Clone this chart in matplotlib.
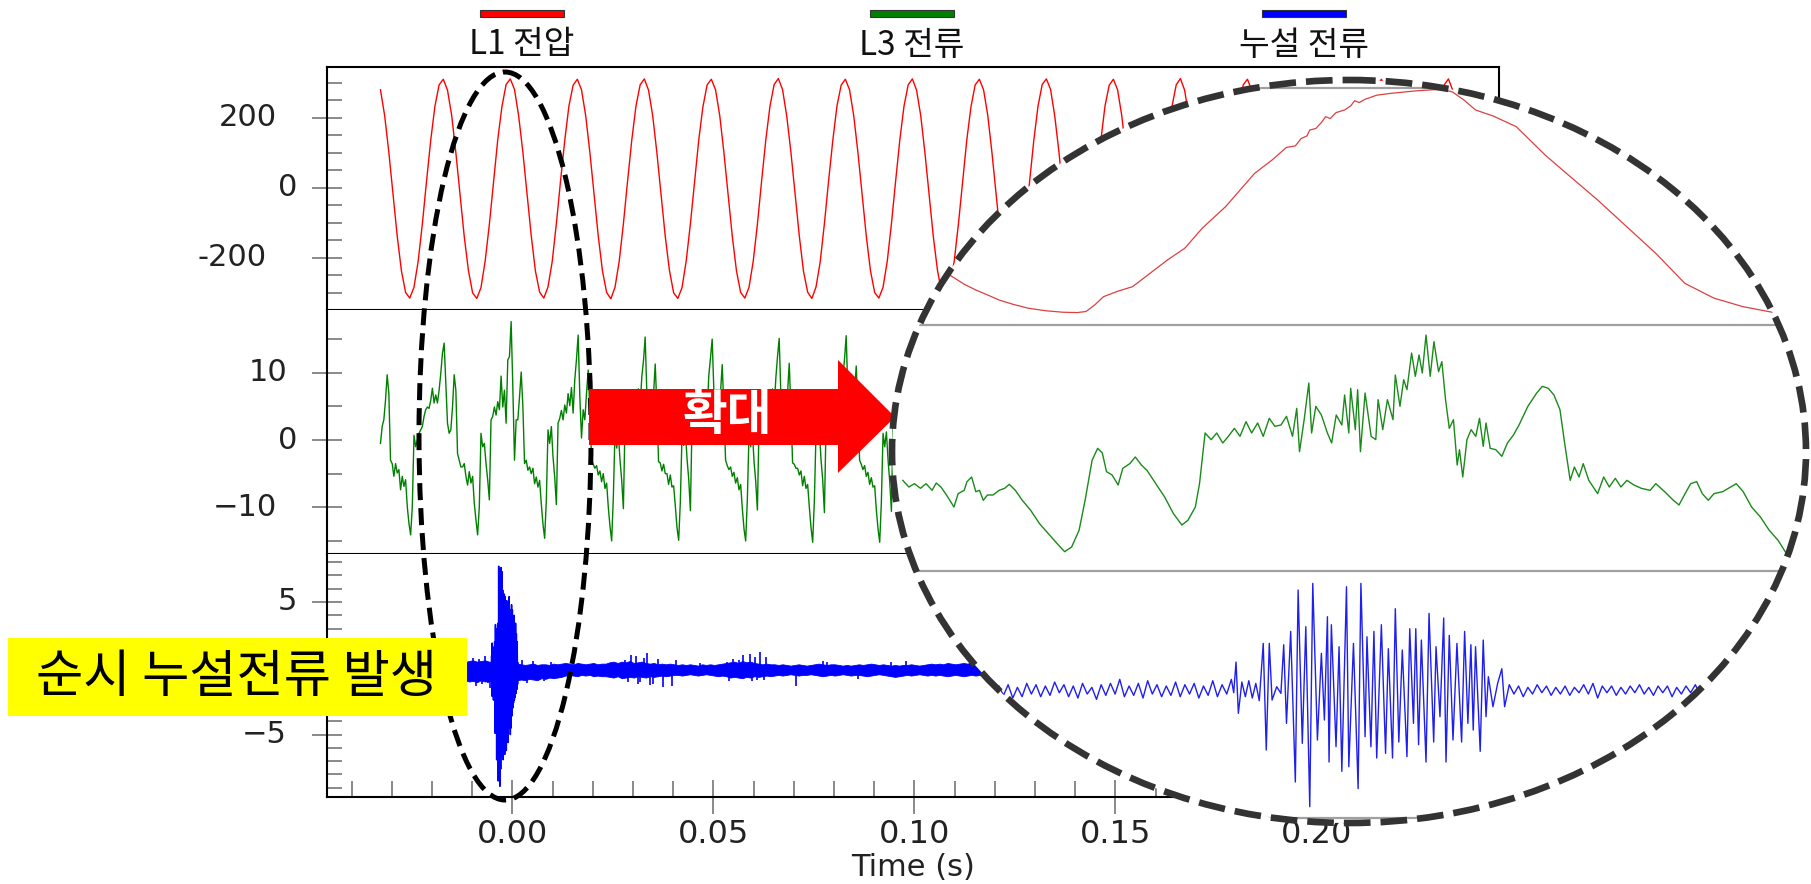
import numpy as np
import matplotlib
matplotlib.use('Agg')
import matplotlib.pyplot as plt
from matplotlib.patches import Ellipse, Polygon, Rectangle
from matplotlib.ticker import MultipleLocator

plt.rcParams['font.family'] = ['DejaVu Sans', 'Noto Sans CJK KR']
KR = ['Noto Sans CJK KR', 'DejaVu Sans']

# ---------------- recorded traces (time in s) ----------------
t_start = -0.0328
red_rate = 960        # samples per second kept for L1 voltage
green_rate = 2400     # samples per second kept for L3 current

# L1 voltage, one row per 60 Hz cycle (V)
red_rows = [
    [280, 206, 101, -19, -138, -237, -299, -315, -284, -210, -103, 19, 136, 233, 294, 310],
    [279, 207, 100, -20, -139, -236, -300, -316, -285, -209, -104, 18, 137, 232, 295, 311],
    [281, 205, 102, -18, -137, -238, -298, -315, -283, -211, -102, 20, 135, 234, 293, 310],
    [280, 206, 101, -19, -138, -237, -299, -317, -284, -210, -103, 19, 136, 233, 294, 311],
    [279, 206, 100, -20, -139, -236, -300, -316, -285, -209, -103, 18, 137, 232, 294, 310],
    [280, 207, 101, -19, -138, -237, -299, -315, -284, -210, -104, 19, 136, 233, 295, 312],
    [281, 205, 102, -18, -137, -238, -298, -316, -283, -211, -102, 20, 135, 234, 293, 310],
    [280, 206, 101, -19, -138, -237, -299, -315, -284, -210, -103, 19, 136, 233, 294, 311],
    [279, 206, 100, -20, -139, -236, -300, -317, -285, -209, -103, 18, 137, 232, 294, 310],
    [280, 207, 101, -19, -138, -237, -299, -316, -284, -210, -104, 19, 136, 233, 295, 311],
    [281, 205, 102, -18, -137, -238, -298, -315, -283, -211, -102, 20, 135, 234, 293, 310],
    [280, 206, 101, -19, -138, -237, -299, -316, -284, -210, -103, 19, 136, 233, 294, 312],
    [279, 206, 100, -20, -139, -236, -300, -315, -285, -209, -103, 18, 137, 232, 294, 310],
    [280, 207, 101, -19, -138, -237, -299, -317, -284, -210, -104, 19, 136, 233, 295, 311],
    [281, 205, 102, -18, -137, -238, -298, -316, -283, -211, -102, 20, 135, 234, 293, 310],
    [280, 206, 101, -19, -138, -237, -299, -315, -284, -210, -103, 19, 136, 233, 294, 311],
    [279, 206, 100, -20, -139, -236, -300, -316, -285, -209, -103],
]

# L3 current (A): lead-in, then one list per cycle starting at the negative spike
green_lead = [-0.5, 2.0, 3.0, 5.9, 9.7, 6.9, -3.0, -3.5, -5.4, -3.5, -4.9, -4.4, -7.4, -5.4, -6.9, -5.9, -9.9, -12.4]
green_c1 = [-14.1, -9.9, 0.7, -1.0, 0.0, 1.0, 1.5, 2.0, 3.5, 4.5, 4.9, 4.7, 5.9, 7.7, 5.5, 6.7, 5.5, 7.4, 9.9, 12.9,
            14.4, 8.4, 2.5, 1.0, 1.5, 4.9, 9.7, 7.4, -2.0, -3.0, -4.0, -4.0, -3.5, -5.4, -6.7, -4.7, -6.4, -5.4, -9.4, -11.9]
green_c2 = [-14.1, -9.9, 1.0, -1.0, -0.5, -3.5, -5.9, -8.9, 3.0, 3.5, 4.9, 3.7, 5.7, 4.5, 9.5, 4.9, 7.4, 2.5, 11.9, 12.4,
            17.6, 7.9, -3.0, 3.0, 3.0, 6.4, 10.1, 5.0, -3.5, -3.0, -4.5, -4.0, -5.0, -4.2, -6.5, -5.5, -7.0, -6.0, -9.5, -12.5]
green_c3 = [-14.6, -9.0, 1.5, -0.5, 2.0, -2.5, -5.5, -9.6, 2.5, 3.2, 4.4, 3.0, 5.2, 4.0, 6.9, 5.1, 7.8, 4.0, 9.0, 12.0,
            15.6, 6.5, 0.3, 4.5, 3.0, 7.0, 10.4, 4.2, -2.8, -3.6, -4.2, -3.8, -5.2, -4.6, -6.2, -5.0, -7.2, -6.4, -10.0, -12.8]
green_c4 = [-15.0, -8.5, 1.2, -1.2, 1.0, -3.0, -6.0, -10.2, 2.8, 3.6, 4.0, 3.4, 5.0, 4.6, 7.2, 4.8, 7.6, 5.0, 9.4, 11.8,
            15.3, 7.0, 1.0, 3.8, 3.4, 6.8, 11.3, 5.0, -3.2, -3.4, -4.6, -3.6, -5.0, -5.0, -6.6, -5.2, -7.0, -6.8, -9.8, -13.0]
green_c5 = [-14.9, -9.2, 0.8, -0.8, 1.5, -2.8, -5.8, -10.5, 3.0, 3.0, 4.6, 3.6, 5.4, 4.2, 7.0, 5.4, 7.2, 4.4, 9.6, 12.2,
            15.0, 7.4, 0.6, 4.0, 3.2, 7.2, 11.2, 4.6, -3.0, -3.8, -4.4, -4.0, -5.4, -4.8, -6.4, -5.6, -7.4, -6.6, -10.2, -13.2]
green_c6 = [-15.0, -8.8, 1.0, -1.0, 1.2, -3.2, -6.2, -10.4, 2.6, 3.4, 4.2, 3.2, 5.6, 4.4, 6.8, 5.0, 7.6, 4.6, 9.2, 12.4,
            15.1, 6.8, 0.8, 4.2, 3.6, 7.0, 11.4, 4.8, -3.4, -3.6, -4.2, -4.2, -5.2, -4.6, -6.8, -5.4, -7.2, -6.6, -10.0, -13.0]
green_c7 = [-15.2, -9.0, 1.2, -0.6, 1.4, -3.0, -6.0, -10.8, 2.8, 3.2, 4.4, 3.4, 5.2, 4.6, 7.4, 5.2, 7.4, 4.2, 9.4, 12.0,
            15.5, 7.2, 0.4, 4.0, 3.4, 7.2, 11.0, 4.4, -3.0, -3.6, -4.4, -3.8, -5.4, -4.8, -6.6, -5.6, -7.0, -6.8, -10.4, -13.2]
green_c8 = [-15.2, -9.2, 1.0, -1.0, 1.2, -3.0, -6.2, -10.6, 2.6, 3.4, 4.2, 3.4, 5.4, 4.4, 7.0, 5.0, 7.6, 4.4, 9.4, 12.2,
            15.2, 7.0, 0.6, 4.0, 3.4, 7.0, 11.0, 4.6, -3.2, -3.6, -4.4, -4.0, -5.2, -4.8, -6.6, -5.4, -7.2, -6.6, -10.0, -13.0]

# leakage current (A): noise band sampled every 1 ms (upper / lower edge)
blue_step = 0.001
blue_hi = [0.45, 0.50, 0.40, 0.55, 0.50, 0.45, 0.50, 0.60, 0.45, 0.50,
           0.40, 0.50, 0.55, 0.45, 0.50, 0.50, 0.45, 0.55, 0.50, 0.40,
           0.50, 0.45, 0.55, 0.60, 0.50, 0.55, 0.60, 0.50, 0.50, 0.50,
           0.50, 0.50, 0.45, 0.40, 0.35, 0.30, 0.25, 0.30, 0.35, 0.25,
           0.30, 0.30, 0.25, 0.35, 0.30, 0.35, 0.40, 0.35, 0.30, 0.40,
           0.35, 0.30, 0.35, 0.40, 0.30, 0.35, 0.35, 0.45, 0.50, 0.40,
           0.50, 0.45, 0.55, 0.40, 0.45, 0.50, 0.40, 0.35, 0.40, 0.30,
           0.35, 0.30, 0.35, 0.30, 0.25, 0.30, 0.25, 0.30, 0.25, 0.20,
           0.30, 0.25, 0.30, 0.25, 0.30, 0.35, 0.40, 0.45, 0.50, 0.40,
           0.55, 0.45, 0.50, 0.40, 0.35, 0.30, 0.35, 0.30, 0.30, 0.25,
           0.30, 0.25, 0.20, 0.25, 0.30, 0.25, 0.20, 0.25, 0.30, 0.35,
           0.30, 0.25, 0.30, 0.30, 0.25, 0.20, 0.25, 0.20, 0.25, 0.30,
           0.25, 0.30, 0.35, 0.30, 0.25, 0.30, 0.25, 0.20, 0.25, 0.20,
           0.25, 0.25, 0.30, 0.25, 0.20, 0.25, 0.30, 0.35, 0.30, 0.35,
           0.30, 0.40, 0.35, 0.30, 0.35, 0.40, 0.35, 0.45, 0.40, 0.35,
           0.40, 0.45, 0.40, 0.35, 0.40]
blue_lo = [-0.85, -0.90, -1.00, -0.85, -0.95, -0.90, -0.80, -0.95, -0.90, -1.00,
           -0.85, -0.90, -0.95, -0.90, -0.85, -1.00, -0.90, -0.95, -0.85, -0.90,
           -1.00, -0.90, -1.00, -0.95, -1.05, -0.90, -1.00, -0.95, -1.00, -1.00,
           -0.95, -0.90, -0.90, -0.85, -0.90, -0.85, -0.90, -0.80, -0.85, -0.90,
           -0.75, -0.80, -0.70, -0.75, -0.70, -0.65, -0.55, -0.50, -0.55, -0.60,
           -0.50, -0.55, -0.50, -0.60, -0.55, -0.60, -0.60, -0.65, -0.70, -0.60,
           -0.75, -0.70, -0.65, -0.70, -0.60, -0.65, -0.70, -0.60, -0.65, -0.60,
           -0.55, -0.60, -0.55, -0.50, -0.50, -0.55, -0.50, -0.45, -0.50, -0.55,
           -0.50, -0.45, -0.50, -0.55, -0.60, -0.55, -0.60, -0.70, -0.65, -0.70,
           -0.75, -0.65, -0.70, -0.60, -0.65, -0.60, -0.55, -0.60, -0.55, -0.50,
           -0.55, -0.50, -0.45, -0.50, -0.55, -0.50, -0.50, -0.45, -0.50, -0.55,
           -0.60, -0.55, -0.50, -0.55, -0.50, -0.45, -0.50, -0.55, -0.50, -0.50,
           -0.55, -0.60, -0.55, -0.50, -0.45, -0.50, -0.55, -0.60, -0.65, -0.60,
           -0.55, -0.50, -0.55, -0.50, -0.45, -0.50, -0.55, -0.50, -0.55, -0.50,
           -0.55, -0.60, -0.55, -0.50, -0.55, -0.60, -0.55, -0.50, -0.55, -0.50,
           -0.55, -0.60, -0.55, -0.50, -0.55]
blue_mid = -0.15
spike_t = [-0.0098, -0.0091, -0.0083, -0.0076, -0.0069, -0.0061, -0.0056, 0.0024, 0.0036, 0.0052, 0.0078, 0.0095,
           0.0280, 0.0288, 0.0296, 0.0307, 0.0312, 0.0317, 0.0328, 0.0336, 0.0342, 0.0350, 0.0362, 0.0375, 0.0396,
           0.0407, 0.0466, 0.0533, 0.0538, 0.0550, 0.0564, 0.0573, 0.0591, 0.0596, 0.0603, 0.0608, 0.0616, 0.0626,
           0.0632, 0.0705, 0.0772, 0.0782, 0.0860, 0.0943, 0.0978]
spike_v = [0.8, -1.3, 0.7, -1.2, 0.9, -1.1, -1.5, 0.6, -1.1, 0.55, -0.95, 0.5,
           0.65, -1.0, 1.0, 0.95, -1.15, -1.0, 0.8, 1.18, -1.26, -1.2, 0.7, -1.43, -1.33,
           0.6, 0.42, 0.5, -0.96, 0.7, 0.62, 1.0, 1.07, -0.95, 0.83, -0.9, 1.25, -0.88,
           0.85, -1.33, 0.55, 0.45, -0.83, 0.5, 0.55]
burst_start, burst_step = -0.0052, 0.0001
burst_v = [0.9, -2.1, 1.9, -1.6, 1.2, -2.4, 1.6, -1.8, 2.0, -4.9,
           3.3, -3.8, 2.8, -6.9, 3.0, -5.2, 3.4, -8.5, 7.7, -6.0,
           7.5, -8.9, 6.8, -7.6, 7.6, -6.7, 7.3, -6.2, 5.9, -6.9,
           5.0, -5.9, 5.6, -6.5, 5.4, -5.6, 4.6, -6.2, 5.1, -5.0,
           4.4, -5.6, 4.8, -4.5, 5.4, -4.4, 4.2, -5.0, 4.4, -4.5,
           4.8, -3.6, 4.4, -3.0, 3.6, -2.6, 4.0, -2.4, 3.1, -2.2,
           3.4, -1.9, 2.6, -1.6, 2.0, -1.2, 0.4]

# ---------------- zoomed cycle shown in the circle (time in ms) ----------------
zoom_red = [(1.0, -196), (1.1, -205), (1.375, -227), (1.63, -243), (1.875, -256), (2.13, -270), (2.44, -282),
            (2.75, -292), (3.13, -299), (3.5, -303), (3.81, -304), (4.0, -301), (4.19, -283), (4.375, -261),
            (4.69, -246), (5.0, -234), (5.375, -198), (5.75, -162), (6.125, -130), (6.5, -76), (7.0, -18),
            (7.375, 36), (7.625, 72), (8.0, 108), (8.31, 142), (8.5, 146), (8.625, 166), (8.75, 173), (8.81, 189),
            (8.94, 193), (9.06, 209), (9.15, 225), (9.25, 220), (9.375, 236), (9.56, 243), (9.69, 254),
            (9.775, 268), (9.875, 263), (10.0, 272), (10.25, 283), (10.56, 288), (10.875, 292), (11.125, 295),
            (11.375, 297), (11.625, 299), (11.875, 292), (12.125, 270), (12.375, 243), (12.75, 227), (13.25, 198),
            (13.875, 121), (14.375, 67), (15.0, 0), (15.625, -72), (16.25, -144), (16.875, -225), (17.5, -265),
            (18.125, -288), (18.75, -303)]
zoom_green = [(0.06, -3.6), (0.19, -4.6), (0.31, -4.1), (0.44, -4.8), (0.56, -4.1), (0.69, -5.1), (0.78, -4.0),
              (0.88, -4.6), (1.0, -5.8), (1.16, -7.6), (1.25, -5.6), (1.38, -5.1), (1.44, -3.8), (1.54, -3.1),
              (1.63, -5.3), (1.71, -5.1), (1.79, -6.6), (1.88, -5.8), (2.0, -5.8), (2.13, -5.1), (2.25, -4.8),
              (2.35, -4.2), (2.48, -5.1), (2.63, -6.6), (2.81, -8.1), (3.0, -10.1), (3.19, -11.6), (3.38, -13.1),
              (3.54, -14.3), (3.69, -13.6), (3.85, -11.1), (3.98, -6.6), (4.13, -0.6), (4.25, 1.2), (4.35, 0.5),
              (4.44, -2.3), (4.56, -2.8), (4.69, -4.3), (4.79, -1.8), (4.94, -1.1), (5.06, -0.1), (5.19, -1.3),
              (5.31, -2.1), (5.5, -4.1), (5.69, -6.1), (5.88, -8.6), (6.06, -10.3), (6.19, -9.6), (6.35, -7.6),
              (6.44, -4.1), (6.56, 3.5), (6.69, 2.5), (6.81, 3.5), (6.94, 2.0), (7.06, 3.0), (7.19, 4.2),
              (7.31, 3.0), (7.44, 5.2), (7.56, 3.5), (7.69, 5.0), (7.81, 3.0), (7.94, 5.7), (8.06, 4.5),
              (8.19, 4.7), (8.31, 6.0), (8.44, 3.0), (8.53, 7.2), (8.59, 0.7), (8.69, 5.5), (8.79, 11.0),
              (8.85, 3.5), (8.94, 7.5), (9.06, 6.2), (9.19, 3.5), (9.28, 2.0), (9.38, 6.2), (9.5, 4.7), (9.56, 9.2),
              (9.65, 3.5), (9.69, 10.2), (9.79, 4.0), (9.84, 10.0), (9.9, 0.7), (10.0, 9.5), (10.13, 3.0),
              (10.23, 2.5), (10.28, 8.5), (10.38, 4.0), (10.48, 8.5), (10.6, 5.5), (10.65, 12.2), (10.75, 7.5),
              (10.83, 11.5), (10.9, 10.0), (11.0, 15.5), (11.08, 12.0), (11.16, 15.2), (11.23, 12.5), (11.31, 18.2),
              (11.4, 12.0), (11.48, 17.2), (11.58, 12.7), (11.65, 14.2), (11.73, 8.5), (11.81, 4.2), (11.9, 5.5),
              (11.98, -1.3), (12.03, 1.0), (12.1, -3.1), (12.19, 2.5), (12.28, 4.0), (12.38, 3.0), (12.46, 5.7),
              (12.54, 1.5), (12.6, 5.0), (12.69, 1.2), (12.81, 1.0), (12.94, 0.0), (13.06, 2.0), (13.19, 3.2),
              (13.31, 4.7), (13.5, 7.5), (13.69, 9.5), (13.81, 10.5), (13.94, 10.2), (14.06, 9.2), (14.19, 7.0),
              (14.29, 2.0), (14.41, -3.6), (14.5, -1.6), (14.6, -3.1), (14.69, -1.1), (14.81, -3.6), (15.0, -5.6),
              (15.13, -3.1), (15.25, -4.6), (15.38, -3.3), (15.5, -4.6), (15.63, -3.6), (15.78, -4.3), (15.94, -4.8),
              (16.13, -5.1), (16.25, -4.1), (16.44, -5.3), (16.63, -6.6), (16.75, -7.3), (16.88, -5.6), (17.0, -4.1),
              (17.13, -3.8), (17.25, -5.6), (17.38, -6.6), (17.5, -5.6), (17.69, -5.3), (17.81, -4.8), (17.98, -4.1),
              (18.13, -5.3), (18.31, -7.6), (18.5, -9.1), (18.69, -11.1), (18.88, -12.6), (19.06, -14.6)]
zoom_blue_pre = [0.3, -0.4, 0.4, -0.6, 0.2, -0.5, 0.5, -0.3, 0.4, -0.5,
                 0.3, -0.4, 0.6, -0.2, 0.4, -0.5, 0.3, -0.6, 0.5, -0.3,
                 0.2, -0.7, 0.4, -0.4, 0.5, -0.3, 0.8, -0.5, 0.3, -0.4,
                 0.5, -0.6, 0.7, -0.3, 0.4, -0.5, 0.3, -0.4, 0.6, -0.5,
                 0.4, -0.3, 0.5, -0.6, 0.3, -0.4, 0.7, -0.5, 0.4, -0.3, 0.8]
zoom_blue_burst = [(7.175, -0.2), (7.225, 2.1), (7.275, -1.75), (7.35, 0.6), (7.425, -0.5), (7.5, 0.7),
                   (7.575, -0.6), (7.65, 0.5), (7.725, -0.8), (7.81, 3.5), (7.875, -4.5), (7.94, 3.5), (8.0, -0.75),
                   (8.1, 0.25), (8.19, -0.25), (8.25, 3.4), (8.31, -2.5), (8.4, 4.4), (8.5, -6.9), (8.56, 7.5),
                   (8.65, -4.0), (8.725, 4.75), (8.81, -8.75), (8.875, 8.0), (8.975, -3.75), (9.06, 2.75),
                   (9.125, -2.25), (9.19, 5.5), (9.225, -5.4), (9.275, 4.9), (9.375, -4.25), (9.44, 3.25),
                   (9.5, -6.1), (9.6, 7.75), (9.65, -5.75), (9.75, 3.5), (9.85, -7.4), (9.91, 8.0), (10.0, -3.5),
                   (10.04, 4.0), (10.125, -4.25), (10.19, 4.4), (10.25, -5.1), (10.35, 4.9), (10.44, -4.75),
                   (10.5, 3.1), (10.59, -5.1), (10.65, 6.1), (10.725, -3.9), (10.8, 3.0), (10.9, -5.0), (10.96, 4.6),
                   (11.04, -2.5), (11.09, 4.6), (11.15, -4.1), (11.21, 3.75), (11.31, -5.4), (11.375, 5.75),
                   (11.475, -3.9), (11.525, 3.25), (11.61, -2.0), (11.69, 5.4), (11.74, -5.4), (11.81, 4.1),
                   (11.89, -3.75), (11.975, 3.5), (12.075, -3.9), (12.14, 4.4), (12.21, -2.5), (12.275, 3.4),
                   (12.325, -3.0), (12.375, 3.25), (12.475, -4.6), (12.54, 3.75), (12.6, -2.0), (12.65, 1.0),
                   (12.75, -1.25), (12.85, 0.5), (12.94, 1.6), (13.0, -1.25)]
zoom_blue_post = [0.4, -0.3, 0.3, -0.5, 0.2, -0.3, 0.4, -0.2, 0.3, -0.4,
                  0.2, -0.3, 0.3, -0.4, 0.2, -0.2, 0.4, -0.3, 0.5, -0.6,
                  0.3, -0.2, 0.3, -0.4, 0.2, -0.3, 0.3, -0.2, 0.4, -0.3,
                  0.2, -0.4, 0.3, -0.2, 0.3, -0.5, 0.2, -0.3, 0.3, -0.2,
                  0.4, -0.3, 0.2]

# ---------------- labels ----------------
series_names = ['L1 전압', 'L3 전류', '누설 전류']
series_colors = ['#ff0000', '#008000', '#0000ff']
top_ticks, top_labels = [200, 0, -200], ['200', '0', '-200']
mid_ticks, mid_labels = [10, 0, -10], ['10', '0', '\u221210']
# the "0" of the leakage panel sits under the yellow note, so it is not written
bot_ticks, bot_labels = [5, 0, -5], ['5', '', '\u22125']
time_ticks = [0.0, 0.05, 0.10, 0.15, 0.20]
time_labels = ['0.00', '0.05', '0.10', '0.15', '0.20']

# ---------------- build arrays ----------------
red_v = np.concatenate([np.array(r, float) for r in red_rows])
red_t = t_start + np.arange(len(red_v)) / red_rate
green_v = np.concatenate([green_lead, green_c1, green_c2, green_c3, green_c4,
                          green_c5, green_c6, green_c7, green_c8])
green_t = t_start + np.arange(len(green_v)) / green_rate
blue_t = t_start + np.arange(len(blue_hi)) * blue_step
burst_t = burst_start + np.arange(len(burst_v)) * burst_step
zr = np.array(zoom_red)
zg = np.array(zoom_green)
zb_mid = np.array(zoom_blue_burst)
zb_t = np.concatenate([np.linspace(2.125, 7.125, len(zoom_blue_pre)), zb_mid[:, 0],
                       np.linspace(13.1, 17.3, len(zoom_blue_post))])
zb_v = np.concatenate([zoom_blue_pre, zb_mid[:, 1], zoom_blue_post])

# ---------------- figure ----------------
W, H = 1811, 884
fig = plt.figure(figsize=(W / 100, H / 100), dpi=100)


def px_axes(x0, y0, x1, y1, **kw):
    return fig.add_axes([x0 / W, 1 - y1 / H, (x1 - x0) / W, (y1 - y0) / H], **kw)


GREY = '#808080'


def setup(ax, ylim, major, labels, minor):
    ax.set_xlim(-0.0461, 0.2454)
    ax.set_ylim(*ylim)
    ax.set_yticks(major)
    ax.yaxis.set_minor_locator(MultipleLocator(minor))
    ax.tick_params(axis='y', which='major', direction='inout', length=21, width=1.3,
                   color=GREY, labelleft=False)
    ax.tick_params(axis='y', which='minor', direction='in', length=10.5, width=1.3, color=GREY)
    ax.tick_params(axis='x', which='both', bottom=False, labelbottom=False)
    for s in ax.spines.values():
        s.set_linewidth(1.5)
    for v, s in zip(major, labels):
        if not s:
            continue
        xr = (307 - 10 * len(s) - 327) / 1172
        ax.text(xr, v, s, transform=ax.get_yaxis_transform(), ha='right', va='center',
                fontsize=22, color='#222222')


ax1 = px_axes(327, 67, 1499, 310)
ax2 = px_axes(327, 310, 1499, 554)
ax3 = px_axes(327, 554, 1499, 797)
setup(ax1, (-349, 345), top_ticks, top_labels, 50)
setup(ax2, (-16.94, 19.32), mid_ticks, mid_labels, 5)
setup(ax3, (-9.71, 8.62), bot_ticks, bot_labels, 1)
for a in (ax2, ax3):
    a.spines['top'].set_visible(False)
    a.spines['right'].set_visible(False)

ax1.plot(red_t, red_v, color=series_colors[0], lw=1.0)
ax2.plot(green_t, green_v, color=series_colors[1], lw=1.0)
ax3.fill_between(blue_t, blue_lo, blue_hi, color=series_colors[2], lw=0.6)
ax3.vlines(spike_t, blue_mid, spike_v, color=series_colors[2], lw=1.2)
ax3.plot(burst_t, burst_v, color=series_colors[2], lw=1.1)

ax3.set_xticks(time_ticks, time_labels)
ax3.xaxis.set_minor_locator(MultipleLocator(0.01))
ax3.tick_params(axis='x', which='major', bottom=True, labelbottom=True, direction='inout',
                length=25, width=1.3, color=GREY, labelsize=23, pad=3.5, labelcolor='#222222')
ax3.tick_params(axis='x', which='minor', bottom=True, direction='in', length=11.5, width=1.3, color=GREY)
ax3.set_xlabel('Time (s)', fontsize=22, labelpad=2, color='#222222')

# ---------------- overlay in pixel coordinates ----------------
ov = fig.add_axes([0, 0, 1, 1], label='overlay')
ov.set_xlim(0, W)
ov.set_ylim(H, 0)
ov.axis('off')
ov.set_zorder(5)

for name, col, cx in zip(series_names, series_colors, [522, 912, 1304]):
    ov.add_patch(Rectangle((cx - 42, 10), 84, 7, fc=col, ec='#333333', lw=0.8))
    ov.text(cx, 45, name, ha='center', va='center', fontsize=24, family=KR, color='#111111')

ov.add_patch(Ellipse((505, 436), 172, 728, fill=False, ec='black', lw=3.6,
                     ls=(0, (3.4, 1.6)), zorder=2))
ov.add_patch(Rectangle((8, 638), 459, 78, fc='#ffff00', ec='none', zorder=3))
ov.text(236, 677, '순시 누설전류 발생', ha='center', va='center', fontsize=37,
        family=KR, color='black', zorder=4)

ov.add_patch(Polygon([(589, 389), (838, 389), (838, 360), (895, 417), (838, 473),
                      (838, 445), (589, 445)], closed=True, fc='#ff0000', ec='none', zorder=3))
ov.text(727, 415, '확대', ha='center', va='center', fontsize=35, fontweight='bold',
        family=KR, color='white', zorder=4)

zoom_bg = Ellipse((1349, 451.5), 914, 743, fc='white', ec='none', zorder=5)
ov.add_patch(zoom_bg)
seps = ov.hlines([88, 325, 571, 818], 880, 1820, colors='#a0a0a0', lw=1.6, zorder=6)
seps.set_clip_path(zoom_bg)


def inset(y0, y1, ylim):
    a = px_axes(892, y0, 1806, y1)
    a.set_xlim(-0.172, 19.48)
    a.set_ylim(*ylim)
    a.axis('off')
    a.set_zorder(6)
    return a


iz1 = inset(88, 325, (-337.5, 302.4))
iz2 = inset(325, 571, (-17.2, 19.7))
iz3 = inset(571, 818, (-9.6, 8.93))
for a, x, y, c, lw in [(iz1, zr[:, 0], zr[:, 1], '#dd4040', 0.9),
                       (iz2, zg[:, 0], zg[:, 1], '#1a8a1a', 1.0),
                       (iz3, zb_t, zb_v, '#1f1fee', 1.0)]:
    ln, = a.plot(x, y, color=c, lw=lw)
    ln.set_clip_path(zoom_bg)

ov2 = fig.add_axes([0, 0, 1, 1], label='overlay2')
ov2.set_xlim(0, W)
ov2.set_ylim(H, 0)
ov2.axis('off')
ov2.set_zorder(7)
ov2.add_patch(Ellipse((1349, 451.5), 914, 743, fill=False, ec='#333333', lw=4.8,
                      ls=(0, (4.0, 1.5))))

fig.savefig('out.png', dpi=100)
